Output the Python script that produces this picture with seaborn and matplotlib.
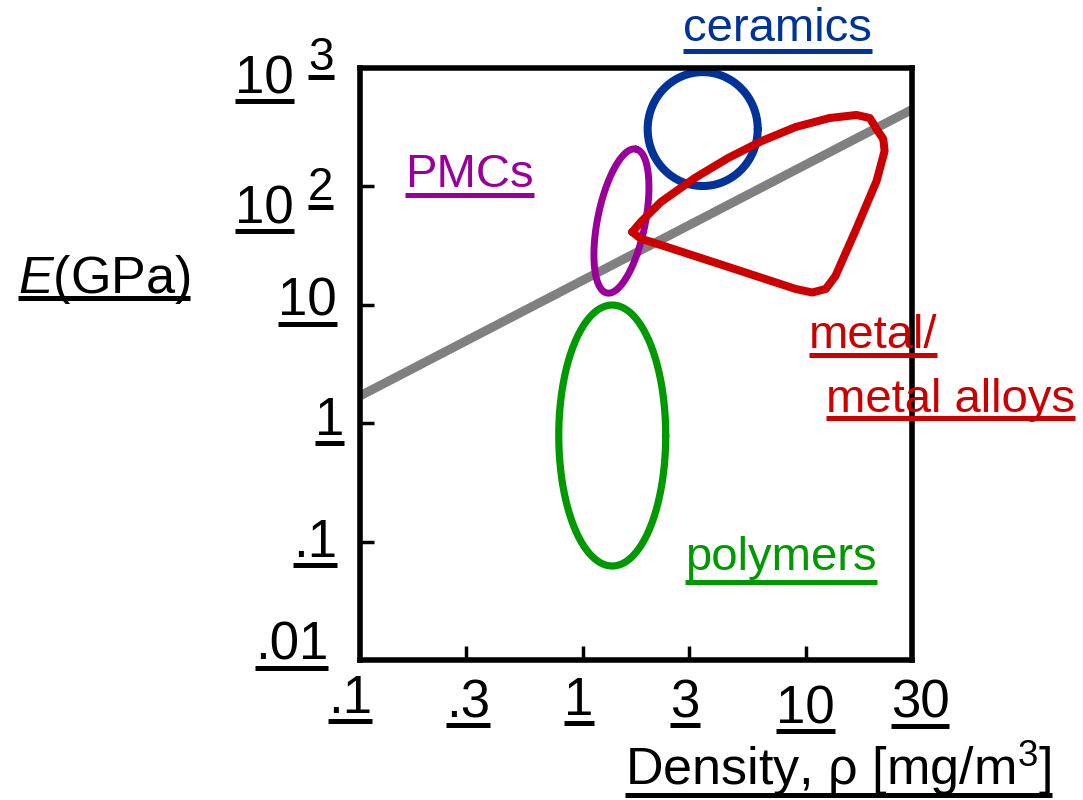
import numpy as np
import matplotlib
matplotlib.use('Agg')
import matplotlib.pyplot as plt
import seaborn as sns
from matplotlib.lines import Line2D
from matplotlib.transforms import offset_copy

# reference line E ~ rho
grey_rho = [0.1, 30]
grey_E = [1.7, 446]

# ellipse regions: centre (rho, E) and two conjugate half axes in decades (log rho, log E)
ceramics_center = [3.45, 305]
ceramics_half_axes = [[0.247, 0.0], [0.0, 0.481]]
pmc_center = [1.49, 51]
pmc_half_axes = [[0.065, 0.608], [0.105, -0.040]]
polymer_center = [1.355, 0.787]
polymer_half_axes = [[0.240, 0.0], [0.0, 1.102]]

# metal / metal alloys outline
metal_rho = [1.667, 1.82, 2.239, 3.18, 4.49, 6.35, 9.02, 12.8, 16.9, 19.4, 20.8, 22.3,
             22.6, 20.8, 16.9, 13.6, 12.3, 10.7, 9.02, 4.49, 2.239, 1.82, 1.667]
metal_E = [41.2, 50.0, 73.8, 117.8, 173.8, 241.8, 317.5, 378, 401, 378, 305, 251,
           199, 111, 44.1, 17.5, 13.6, 12.7, 13.6, 20.9, 32.0, 36.2, 41.2]

xtick_vals = [0.1, 0.3, 1, 3, 10, 30]
xtick_labels = ['.1', '.3', '1', '3', '10', '30']
ytick_vals = [1000, 100, 10, 1, 0.1, 0.01]
ytick_labels = ['10', '10', '10', '1', '.1', '.01']
ytick_sups = ['3', '2', '', '', '', '']

BLUE = '#003399'
PURPLE = '#990099'
GREEN = '#009900'
RED = '#cc0000'


def ellipse_outline(center, half_axes, n=300):
    t = np.linspace(0, 2 * np.pi, n)
    u, v = np.array(half_axes)
    lx = np.log10(center[0]) + u[0] * np.cos(t) + v[0] * np.sin(t)
    ly = np.log10(center[1]) + u[1] * np.cos(t) + v[1] * np.sin(t)
    return 10 ** lx, 10 ** ly


sns.set_style('white')
plt.rcParams['font.family'] = ['Liberation Sans', 'DejaVu Sans']
plt.rcParams['mathtext.fontset'] = 'custom'
plt.rcParams['mathtext.rm'] = 'Liberation Sans'
plt.rcParams['mathtext.it'] = 'Liberation Sans:italic'

fig = plt.figure(figsize=(10.83, 8), dpi=100)
ax = fig.add_axes([360 / 1083, 140 / 800, 552 / 1083, 592 / 800])
ax.set_xscale('log')
ax.set_yscale('log')

sns.lineplot(x=grey_rho, y=grey_E, color='#808080', lw=6.5, ax=ax, zorder=1)

ex, ey = ellipse_outline(ceramics_center, ceramics_half_axes)
sns.lineplot(x=ex, y=ey, sort=False, estimator=None, color=BLUE, lw=5.8, ax=ax, zorder=2)
ex, ey = ellipse_outline(pmc_center, pmc_half_axes)
sns.lineplot(x=ex, y=ey, sort=False, estimator=None, color=PURPLE, lw=5.0, ax=ax, zorder=3)
ex, ey = ellipse_outline(polymer_center, polymer_half_axes)
sns.lineplot(x=ex, y=ey, sort=False, estimator=None, color=GREEN, lw=5.2, ax=ax, zorder=3)
sns.lineplot(x=metal_rho, y=metal_E, sort=False, estimator=None, color=RED, lw=5.8,
             ax=ax, zorder=4)
for ln in ax.lines:
    ln.set_solid_joinstyle('round')
    ln.set_solid_capstyle('round')
ax.lines[0].set_solid_capstyle('butt')

ax.set_xlim(0.1, 30)
ax.set_ylim(0.01, 1000)
ax.set_xticks([0.3, 1, 3, 10])
ax.set_yticks([0.1, 1, 10, 100])
ax.minorticks_off()
ax.set_xticklabels([])
ax.set_yticklabels([])
ax.set_xlabel('')
ax.set_ylabel('')
ax.tick_params(direction='in', length=10, width=2.5, color='black', left=True, bottom=True,
               right=False, top=False)
for sp in ax.spines.values():
    sp.set_linewidth(4)
    sp.set_color('black')
    sp.set_zorder(6)

underlined = []


def utext(x, y, s, transform, size, color='black', ha='left', dy=8, **kw):
    t = fig.text(x, y, s, transform=transform, fontsize=size, color=color, ha=ha,
                 va='baseline', **kw)
    underlined.append((t, dy, color))
    return t


# x tick labels (offsets in px: horizontal, baseline below axes)
x_off = [(-10, -53), (2, -57), (-4, -55), (-4, -57), (0, -63), (8, -58)]
for val, lab, (dx, dyb) in zip(xtick_vals, xtick_labels, x_off):
    tr = offset_copy(ax.get_xaxis_transform(), fig=fig, x=dx, y=dyb, units='dots')
    utext(val, 0, lab, tr, 38, ha='center')

# y tick labels
y_off = [(-66, -25), (-66, -37), (-23, -11), (-16, -12), (-23, -15), (-32, 0)]
sup_off = [(-52, -2), (-52, -14)]
for i, (val, lab) in enumerate(zip(ytick_vals, ytick_labels)):
    dx, dyb = y_off[i]
    tr = offset_copy(ax.get_yaxis_transform(), fig=fig, x=dx, y=dyb, units='dots')
    utext(0, val, lab, tr, 38, ha='right')
    if ytick_sups[i]:
        sx, sy = sup_off[i]
        tr = offset_copy(ax.get_yaxis_transform(), fig=fig, x=sx, y=sy, units='dots')
        utext(0, val, ytick_sups[i], tr, 33, ha='left', dy=7)

# axis titles
utext(-0.620, 0.620, r'$\mathit{E}$(GPa)', ax.transAxes, 37.5, dy=5)
utext(0.480, -0.211, r'Density, ρ [mg/m$^3$]', ax.transAxes, 37.5, dy=10)

# region labels
utext(0.585, 1.046, 'ceramics', ax.transAxes, 34, color=BLUE, dy=10)
utext(0.082, 0.799, 'PMCs', ax.transAxes, 34, color=PURPLE, dy=8)
utext(0.589, 0.152, 'polymers', ax.transAxes, 34, color=GREEN, dy=12)
utext(0.813, 0.527, 'metal/', ax.transAxes, 34, color=RED, dy=7)
utext(0.844, 0.419, 'metal alloys', ax.transAxes, 34, color=RED, dy=6)

fig.canvas.draw()
renderer = fig.canvas.get_renderer()
inv = fig.transFigure.inverted()
for t, dy, color in underlined:
    bb = t.get_window_extent(renderer)
    base = t.get_transform().transform(t.get_position())[1]
    (x0, y0), (x1, _) = inv.transform([(bb.x0, base - dy), (bb.x1, base - dy)])
    fig.add_artist(Line2D([x0, x1], [y0, y0], transform=fig.transFigure, color=color,
                          lw=3.6, solid_capstyle='butt'))

fig.savefig('out.png', dpi=100)
